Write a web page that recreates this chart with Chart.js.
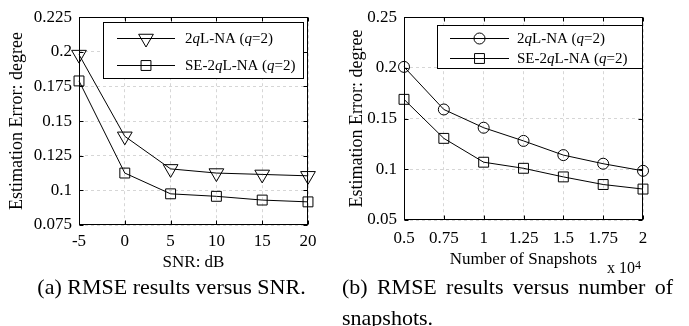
<!DOCTYPE html>
<html><head><meta charset="utf-8">
<script src="https://cdn.jsdelivr.net/npm/chart.js@4/dist/chart.umd.min.js"></script>
<style>
html,body{margin:0;padding:0;background:#fff;width:689px;height:326px;overflow:hidden;font-family:"Liberation Serif","Times New Roman",serif;color:#000;}
#wrapA{position:absolute;left:0;top:0;width:340px;height:280px;}
#wrapB{position:absolute;left:340px;top:0;width:349px;height:280px;}
.cap{position:absolute;font-size:22px;line-height:31px;white-space:normal;}
#capA{left:0;width:343px;top:271px;text-align:center;}
#capB{left:342px;width:331px;top:271px;text-align:justify;}
#expo{position:absolute;left:607px;top:259px;font-size:16px;line-height:18px;}
#expo sup{font-size:12px;position:relative;top:-3px;vertical-align:top;}
</style>
</head><body>
<div id="wrapA"><canvas id="chartA" width="340" height="280"></canvas></div>
<div id="wrapB"><canvas id="chartB" width="349" height="280"></canvas></div>
<div id="expo">x 10<sup>4</sup></div>
<div class="cap" id="capA">(a) RMSE results versus SNR.</div>
<div class="cap" id="capB">(b) RMSE results versus number of snapshots.</div>
<script>
// ---------- data ----------
const snrValues = [-5, 0, 5, 10, 15, 20];
const rmse2qlnaVsSnr = [0.198, 0.139, 0.1155, 0.1125, 0.1115, 0.1105];
const rmseSe2qlnaVsSnr = [0.179, 0.1125, 0.0975, 0.0957, 0.093, 0.0917];

const snapshotValues = [0.5, 0.75, 1, 1.25, 1.5, 1.75, 2];
const rmse2qlnaVsSnap = [0.201, 0.159, 0.141, 0.128, 0.114, 0.1055, 0.0985];
const rmseSe2qlnaVsSnap = [0.169, 0.1305, 0.107, 0.101, 0.0925, 0.085, 0.0805];

const snrTicks = [-5, 0, 5, 10, 15, 20];
const errTicksA = [0.075, 0.1, 0.125, 0.15, 0.175, 0.2, 0.225];
const snapTicks = [0.5, 0.75, 1, 1.25, 1.5, 1.75, 2];
const errTicksB = [0.05, 0.1, 0.15, 0.2, 0.25];

const labelA1 = '2qL-NA (q=2)';
const labelA2 = 'SE-2qL-NA (q=2)';

// ---------- helpers ----------
const FONT = '"Liberation Serif", "Times New Roman", serif';

function drawMarker(ctx, style, radius, rotation, x, y) {
  if (Chart.helpers && Chart.helpers.drawPoint) {
    Chart.helpers.drawPoint(ctx, {pointStyle: style, radius: radius, rotation: rotation, borderWidth: 1}, x, y);
    return;
  }
  ctx.beginPath();
  if (style === 'circle') ctx.arc(x, y, radius, 0, Math.PI * 2);
  else if (style === 'rect') { const s = Math.SQRT1_2 * radius; ctx.rect(x - s, y - s, 2 * s, 2 * s); }
  else {
    let rad = rotation * Math.PI / 180;
    for (let k = 0; k < 3; k++) {
      const px = x + Math.sin(rad) * radius, py = y - Math.cos(rad) * radius;
      k ? ctx.lineTo(px, py) : ctx.moveTo(px, py);
      rad += 2 * Math.PI / 3;
    }
    ctx.closePath();
  }
  ctx.stroke();
}

const framePlugin = {
  id: 'frame',
  afterDatasetsDraw(chart) {
    const ctx = chart.ctx;
    const a = chart.chartArea;
    const L = Math.round(a.left) + 0.5, R = Math.round(a.right) - 0.5;
    const T = Math.round(a.top) + 0.5, B = Math.round(a.bottom) - 0.5;
    ctx.save();
    ctx.strokeStyle = '#000';
    ctx.lineWidth = 1;
    ctx.setLineDash([]);
    ctx.strokeRect(L, T, R - L, B - T);
    const tl = 4;
    ctx.beginPath();
    chart.scales.x.ticks.forEach(t => {
      const px = Math.round(chart.scales.x.getPixelForValue(t.value)) + 0.5;
      ctx.moveTo(px, B); ctx.lineTo(px, B - tl);
      ctx.moveTo(px, T); ctx.lineTo(px, T + tl);
    });
    chart.scales.y.ticks.forEach(t => {
      const py = Math.round(chart.scales.y.getPixelForValue(t.value)) + 0.5;
      ctx.moveTo(L, py); ctx.lineTo(L + tl, py);
      ctx.moveTo(R, py); ctx.lineTo(R - tl, py);
    });
    ctx.stroke();
    ctx.restore();
  },
  afterDraw(chart) {
    const o = chart.options.plugins.frame;
    if (!o || !o.legend) return;
    const lg = o.legend;
    const ctx = chart.ctx;
    ctx.save();
    ctx.setLineDash([]);
    ctx.fillStyle = '#fff';
    ctx.fillRect(lg.x, lg.y, lg.w, lg.h);
    ctx.strokeStyle = '#000';
    ctx.lineWidth = 1;
    ctx.strokeRect(lg.x + 0.5, lg.y + 0.5, lg.w, lg.h);
    chart.data.datasets.forEach((ds, i) => {
      const ry = lg.rows[i];
      ctx.strokeStyle = '#000';
      ctx.lineWidth = 1;
      ctx.beginPath();
      ctx.moveTo(lg.x0, ry + 0.5); ctx.lineTo(lg.x1, ry + 0.5);
      ctx.stroke();
      ctx.fillStyle = 'rgba(0,0,0,0)';
      drawMarker(ctx, ds.pointStyle, ds.pointRadius, ds.pointRotation || 0, (lg.x0 + lg.x1) / 2, ry + 0.5);
      // text with italic q
      ctx.fillStyle = '#000';
      ctx.textBaseline = 'middle';
      ctx.textAlign = 'left';
      let tx = lg.tx;
      const parts = ds.label.split(/(q)/);
      parts.forEach(p => {
        if (!p) return;
        ctx.font = (p === 'q' ? 'italic ' : '') + lg.size + 'px ' + FONT;
        ctx.fillText(p, tx, ry + 1);
        tx += ctx.measureText(p).width;
      });
    });
    ctx.restore();
  }
};

function makeSeries(label, xs, ys, style, radius, rotation) {
  return {
    label: label,
    data: xs.map((x, i) => ({x: x, y: ys[i]})),
    borderColor: '#000',
    borderWidth: 1,
    pointStyle: style,
    pointRadius: radius,
    pointHoverRadius: radius,
    pointRotation: rotation,
    pointBorderColor: '#000',
    pointBackgroundColor: 'rgba(0,0,0,0)',
    pointBorderWidth: 1,
    tension: 0,
    fill: false,
    clip: false
  };
}

function makeChart(id, datasets, cfg) {
  const tickFont = {family: FONT, size: 17};
  const fmt = v => String(Number(Number(v).toFixed(4)));
  return new Chart(document.getElementById(id), {
    type: 'line',
    data: {datasets: datasets},
    plugins: [framePlugin],
    options: {
      responsive: false,
      animation: false,
      devicePixelRatio: 1,
      layout: {padding: {left: 0, right: cfg.padRight, top: 15, bottom: 0}},
      plugins: {
        legend: {display: false},
        tooltip: {enabled: false},
        frame: {legend: cfg.legend}
      },
      scales: {
        x: {
          type: 'linear', min: cfg.xMin, max: cfg.xMax,
          afterBuildTicks: s => { s.ticks = cfg.xTicks.map(v => ({value: v})); },
          afterFit: s => { s.height = cfg.xHeight; },
          grid: {color: '#d6d6d6', lineWidth: 1, drawTicks: false},
          border: {display: false, dash: [3, 3]},
          ticks: {font: tickFont, color: '#000', padding: cfg.xTickPad, maxRotation: 0, autoSkip: false, callback: fmt},
          title: {display: true, text: cfg.xTitle, color: '#000', font: {family: FONT, size: 17}, padding: {top: 0, bottom: cfg.xTitlePad}}
        },
        y: {
          type: 'linear', min: cfg.yMin, max: cfg.yMax,
          afterBuildTicks: s => { s.ticks = cfg.yTicks.map(v => ({value: v})); },
          afterFit: s => { s.width = cfg.yWidth; },
          grid: {color: '#d6d6d6', lineWidth: 1, drawTicks: false},
          border: {display: false, dash: [3, 3]},
          ticks: {font: tickFont, color: '#000', padding: 7, autoSkip: false, callback: fmt},
          title: {display: true, text: 'Estimation Error: degree', color: '#000', font: {family: FONT, size: 18}, padding: {top: 6, bottom: 0}}
        }
      }
    }
  });
}

makeChart('chartA', [
  makeSeries(labelA1, snrValues, rmse2qlnaVsSnr, 'triangle', 8.5, 180),
  makeSeries(labelA2, snrValues, rmseSe2qlnaVsSnr, 'rect', 7, 0)
], {
  xMin: -5, xMax: 20, yMin: 0.075, yMax: 0.225,
  xTicks: snrTicks, yTicks: errTicksA,
  xTitle: 'SNR: dB',
  padRight: 32, yWidth: 79, xHeight: 55, xTickPad: 6, xTitlePad: 7,
  legend: {x: 103, y: 22, w: 200, h: 56, rows: [38, 65], x0: 117, x1: 175, tx: 185, size: 15}
});

makeChart('chartB', [
  makeSeries(labelA1, snapshotValues, rmse2qlnaVsSnap, 'circle', 5.5, 0),
  makeSeries(labelA2, snapshotValues, rmseSe2qlnaVsSnap, 'rect', 7, 0)
], {
  xMin: 0.5, xMax: 2, yMin: 0.05, yMax: 0.25,
  xTicks: snapTicks, yTicks: errTicksB,
  xTitle: 'Number of Snapshots',
  padRight: 46, yWidth: 64, xHeight: 60, xTickPad: 8, xTitlePad: 10,
  legend: {x: 97, y: 25, w: 205, h: 43, rows: [38, 58], x0: 110, x1: 169, tx: 177, size: 15}
});
</script>
</body></html>
